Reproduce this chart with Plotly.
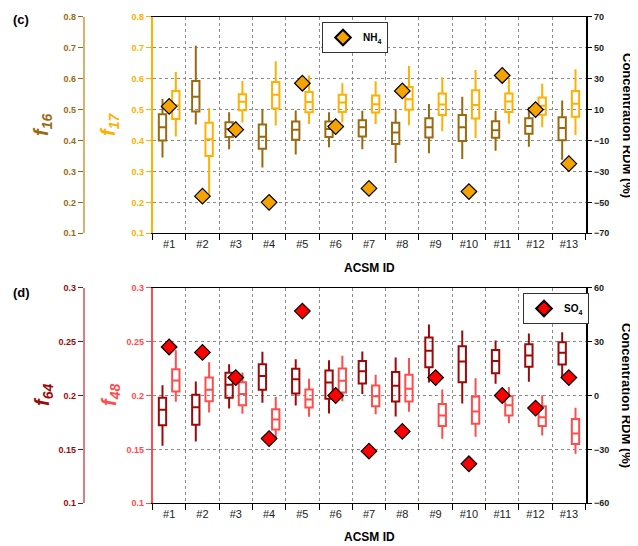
import plotly.graph_objects as go

# page body has an 8px margin, so the figure is drawn 8px in from the window corner
OFF = 8
W, H = 638 - OFF, 546 - OFF
ids = ["#%d" % i for i in range(1, 14)]

# Panel (c): f16 (dark) / f17 (light) box stats, NH4 RDM (%)
f16_hi = [0.534, 0.706, 0.491, 0.501, 0.497, 0.491, 0.496, 0.501, 0.518, 0.541, 0.496, 0.508, 0.529]
f16_q3 = [0.485, 0.592, 0.459, 0.452, 0.461, 0.461, 0.465, 0.457, 0.472, 0.482, 0.462, 0.472, 0.475]
f16_md = [0.443, 0.541, 0.437, 0.412, 0.435, 0.437, 0.443, 0.426, 0.443, 0.443, 0.433, 0.447, 0.440]
f16_q1 = [0.400, 0.494, 0.411, 0.373, 0.402, 0.411, 0.413, 0.389, 0.410, 0.398, 0.409, 0.422, 0.401]
f16_lo = [0.345, 0.452, 0.372, 0.313, 0.355, 0.378, 0.372, 0.327, 0.359, 0.340, 0.367, 0.380, 0.338]

f17_hi = [0.621, 0.504, 0.592, 0.656, 0.610, 0.585, 0.591, 0.641, 0.604, 0.628, 0.598, 0.583, 0.630]
f17_q3 = [0.560, 0.457, 0.549, 0.589, 0.557, 0.548, 0.545, 0.573, 0.552, 0.562, 0.552, 0.539, 0.560]
f17_md = [0.514, 0.404, 0.525, 0.548, 0.524, 0.523, 0.517, 0.533, 0.516, 0.515, 0.526, 0.512, 0.519]
f17_q1 = [0.469, 0.350, 0.498, 0.503, 0.491, 0.492, 0.490, 0.499, 0.482, 0.471, 0.492, 0.483, 0.477]
f17_lo = [0.413, 0.225, 0.458, 0.448, 0.453, 0.458, 0.453, 0.449, 0.430, 0.408, 0.454, 0.443, 0.418]

nh4_rdm = [12, -46, -3, -50, 27, -1, -41, 22, None, -43, 32, 10, -25]

# Panel (d): f64 (dark) / f48 (light) box stats, SO4 RDM (%)
f64_hi = [0.2096, 0.2130, 0.2290, 0.2405, 0.2337, 0.2328, 0.2408, 0.2352, 0.2658, 0.2603, 0.2510, 0.2575, 0.2587]
f64_q3 = [0.1978, 0.2006, 0.2210, 0.2290, 0.2247, 0.2232, 0.2321, 0.2219, 0.2538, 0.2457, 0.2423, 0.2476, 0.2494]
f64_md = [0.1867, 0.1892, 0.2100, 0.2182, 0.2151, 0.2120, 0.2226, 0.2090, 0.2414, 0.2315, 0.2321, 0.2371, 0.2396]
f64_q1 = [0.1725, 0.1728, 0.1978, 0.2053, 0.2019, 0.1970, 0.2111, 0.1944, 0.2263, 0.2124, 0.2207, 0.2266, 0.2287]
f64_lo = [0.1533, 0.1573, 0.1880, 0.1932, 0.1907, 0.1833, 0.2015, 0.1805, 0.2121, 0.1926, 0.2108, 0.2127, 0.2170]

f48_hi = [0.2420, 0.2309, 0.2213, 0.1985, 0.2155, 0.2368, 0.2192, 0.2349, 0.2056, 0.2161, 0.2080, 0.2003, 0.1886]
f48_q3 = [0.2244, 0.2167, 0.2124, 0.1873, 0.2056, 0.2250, 0.2093, 0.2192, 0.1920, 0.1988, 0.1994, 0.1901, 0.1781]
f48_md = [0.2139, 0.2053, 0.2015, 0.1777, 0.1963, 0.2136, 0.1994, 0.2062, 0.1815, 0.1852, 0.1910, 0.1799, 0.1648]
f48_q1 = [0.2037, 0.1947, 0.1910, 0.1685, 0.1889, 0.2028, 0.1901, 0.1944, 0.1716, 0.1737, 0.1815, 0.1716, 0.1549]
f48_lo = [0.1941, 0.1842, 0.1830, 0.1592, 0.1802, 0.1947, 0.1827, 0.1849, 0.1598, 0.1617, 0.1743, 0.1629, 0.1459]

so4_rdm = [27, 24, 10, -24, 47, 0, -31, -20, 10, -38, 0, -7, 10]

# colours
C16, C16L, C17, CNH4 = "#9A6A10", "#D9B070", "#FFB000", "#F5A300"
C64, C64L, C48, CSO4 = "#9B0A0A", "#D88080", "#FF4D4D", "#FF0000"

n = len(ids)
centers = [i + 0.5 for i in range(n)]
left_pos = [c - 0.2 for c in centers]
right_pos = [c + 0.2 for c in centers]

fig = go.Figure()

def add_box(x, q1, md, q3, lo, hi, color, xa, ya):
    fig.add_trace(go.Box(
        x=x, q1=q1, median=md, q3=q3, lowerfence=lo, upperfence=hi,
        width=0.22, whiskerwidth=0, line=dict(color=color, width=2),
        fillcolor="rgba(0,0,0,0)", showlegend=False, xaxis=xa, yaxis=ya,
        boxpoints=False, hoverinfo="skip"))

add_box(left_pos, f16_q1, f16_md, f16_q3, f16_lo, f16_hi, C16, "x", "y2")
add_box(right_pos, f17_q1, f17_md, f17_q3, f17_lo, f17_hi, C17, "x", "y")
add_box(left_pos, f64_q1, f64_md, f64_q3, f64_lo, f64_hi, C64, "x2", "y5")
add_box(right_pos, f48_q1, f48_md, f48_q3, f48_lo, f48_hi, C48, "x2", "y4")

fig.add_trace(go.Scatter(
    x=centers, y=nh4_rdm, mode="markers", name="<b>NH<sub>4</sub></b>",
    marker=dict(symbol="diamond", size=12, color=CNH4, line=dict(color="black", width=1.2)),
    xaxis="x", yaxis="y3", legend="legend"))
fig.add_trace(go.Scatter(
    x=centers, y=so4_rdm, mode="markers", name="<b>SO<sub>4</sub></b>",
    marker=dict(symbol="diamond", size=12, color=CSO4, line=dict(color="black", width=1.2)),
    xaxis="x2", yaxis="y6", legend="legend2"))

def fx(x):
    return (x - OFF) / W

def fy(y):
    return 1 - (y - OFF) / H

xl, xr = fx(152.5), fx(585.5)
xf = fx(83.5)
top_d = [fy(233.3), fy(16.7)]
bot_d = [fy(503.3), fy(287.7)]

grid = dict(showgrid=True, gridcolor="#8a8a8a", griddash="dot", gridwidth=1)

def xaxis_def(anchor):
    return dict(domain=[xl, xr], anchor=anchor, range=[0, 13],
                tickvals=centers, ticktext=ids, ticks="", showgrid=False,
                tickfont=dict(family="Liberation Sans", size=11, color="#222"),
                showline=True, linecolor="black", linewidth=1, mirror=True,
                zeroline=False, automargin=False,
                minor=dict(tickvals=list(range(n + 1)), ticks="outside", ticklen=6,
                           tickcolor="black", showgrid=True, gridcolor="#8a8a8a",
                           griddash="dot", gridwidth=1))

def yleft(domain, rng, dtick, color):
    return dict(domain=domain, range=rng, dtick=dtick, tick0=rng[0],
                ticks="outside", ticklen=5, tickcolor=color, showline=True, linecolor=color,
                linewidth=1.5, tickfont=dict(family="Liberation Sans", size=9, color=color, weight="bold"),
                zeroline=False, automargin=False)

def yright(domain, rng, dtick, over, anchor):
    return dict(domain=domain, range=rng, tick0=rng[0], dtick=dtick, overlaying=over, side="right",
                anchor=anchor, ticks="outside", ticklen=5, tickcolor="black", showline=True,
                linecolor="black", linewidth=1.5, showgrid=False, zeroline=False,
                tickfont=dict(family="Liberation Sans", size=9, color="#222", weight="bold"),
                automargin=False)

y1 = yleft(top_d, [0.1, 0.8], 0.1, C17); y1.update(anchor="x", **grid)
y2 = yleft(top_d, [0.1, 0.8], 0.1, C16); y2.update(anchor="free", overlaying="y", position=xf,
                                                  linecolor=C16L, showgrid=False)
y3 = yright(top_d, [-70, 70], 20, "y", "x")
y4 = yleft(bot_d, [0.1, 0.3], 0.05, C48); y4.update(anchor="x2", **grid)
y5 = yleft(bot_d, [0.1, 0.3], 0.05, C64); y5.update(anchor="free", overlaying="y4", position=xf,
                                                   linecolor=C64L, showgrid=False)
y6 = yright(bot_d, [-60, 60], 30, "y4", "x2")

legend_common = dict(bgcolor="white", bordercolor="#333", borderwidth=1,
                     font=dict(family="Liberation Sans", size=10, color="black"),
                     xanchor="left", yanchor="top", itemwidth=30, tracegroupgap=0,
                     itemsizing="constant")

fig.update_layout(
    width=W, height=H, margin=dict(l=0, r=0, t=0, b=0),
    plot_bgcolor="white", paper_bgcolor="white", boxmode="overlay",
    xaxis=xaxis_def("y"), xaxis2=xaxis_def("y4"),
    yaxis=y1, yaxis2=y2, yaxis3=y3, yaxis4=y4, yaxis5=y5, yaxis6=y6,
    legend=dict(x=fx(322), y=fy(22), **legend_common),
    legend2=dict(x=fx(523), y=fy(293), **legend_common),
)

def ann(text, x, y, size, color="black", angle=0):
    fig.add_annotation(text=text, x=fx(x), y=fy(y), xref="paper", yref="paper",
                       showarrow=False, textangle=angle,
                       font=dict(family="Liberation Sans", size=size, color=color),
                       xanchor="center", yanchor="middle")

ann("<b>(c)</b>", 21, 20, 13)
ann("<b>(d)</b>", 21, 292, 13)
ann("<b><i>f</i><sub><i>16</i></sub></b>", 43, 125, 20, C16, -90)
ann("<b><i>f</i><sub><i>17</i></sub></b>", 110, 125, 20, C17, -90)
ann("<b><i>f</i><sub><i>64</i></sub></b>", 43, 395, 20, C64, -90)
ann("<b><i>f</i><sub><i>48</i></sub></b>", 110, 395, 20, C48, -90)
ann("<b>Concentration RDM (%)</b>", 627, 125, 13, "black", 90)
ann("<b>Concentration RDM (%)</b>", 627, 395, 13, "black", 90)
ann("<b>ACSM ID</b>", 369, 268, 12)
ann("<b>ACSM ID</b>", 369, 537, 12)

fig.write_html("out.html")
